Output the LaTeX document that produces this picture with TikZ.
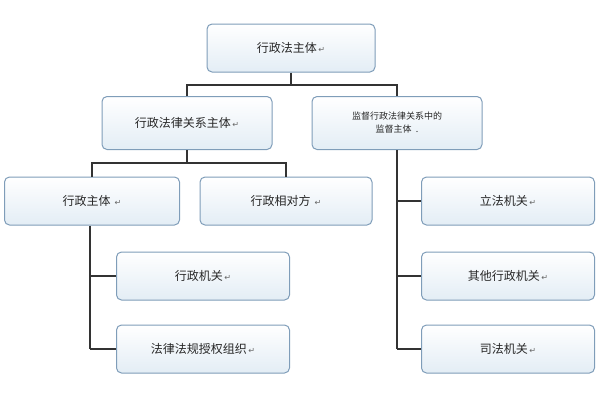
\documentclass[tikz,border=0pt]{standalone}
\usepackage{fontspec}
\newfontfamily\cjk{Noto Sans CJK SC}
\newfontfamily\dv{DejaVu Sans}
\definecolor{bd}{HTML}{7F9DB9}
\definecolor{fb}{HTML}{E3EDF5}
\begin{document}
\begin{tikzpicture}[x=1pt,y=-1pt,
  box/.style={draw=bd,line width=1pt,rounded corners=5pt,top color=white,bottom color=fb,minimum width=173pt,minimum height=48pt,font=\cjk\fontsize{12}{14}\selectfont,align=center,text=black!85},
  ln/.style={draw=black!80,line width=1.1pt}]
\newcommand{\rt}{{\dv\fontsize{8}{8}\selectfont\,\textcolor{black!60}{↵}}}
\useasboundingbox (0,0) rectangle (600,400);
\node[box,minimum width=168pt] (top) at (291,48) {行政法主体\rt};
\node[box,minimum width=170pt,minimum height=53pt] (l2) at (187,123) {行政法律关系主体\rt};
\node[box,minimum width=170pt,minimum height=53pt,font=\cjk\fontsize{9}{13}\selectfont] (r2) at (397,123) {监督行政法律关系中的\\监督主体\ \ .};
\node[box,minimum width=175pt] (xz) at (92,201) {行政主体 \rt};
\node[box,minimum width=172pt] (xd) at (286,201) {行政相对方 \rt};
\node[box] (lf) at (508,201) {立法机关\rt};
\node[box] (qt) at (508,276) {其他行政机关\rt};
\node[box] (sf) at (508,349) {司法机关\rt};
\node[box] (xj) at (203,276) {行政机关\rt};
\node[box] (fl) at (203,349) {法律法规授权组织\rt};
\coordinate (t1) at (291,85);
\draw[ln] (top.south) -- (t1);
\draw[ln] (l2.north) |- (t1) -| (r2.north);
\coordinate (t2) at (187,163);
\draw[ln] (l2.south) -- (t2);
\draw[ln] (xz.north) |- (t2) -| (xd.north);
\coordinate (a) at (90,349);
\draw[ln] (xz.south -| a) -- (a);
\draw[ln] (a |- xj.west) -- (xj.west);
\draw[ln] (a) -- (fl.west);
\coordinate (b) at (397,349);
\draw[ln] (r2.south) -- (b);
\draw[ln] (b |- lf.west) -- (lf.west);
\draw[ln] (b |- qt.west) -- (qt.west);
\draw[ln] (b) -- (sf.west);
\end{tikzpicture}
\end{document}
